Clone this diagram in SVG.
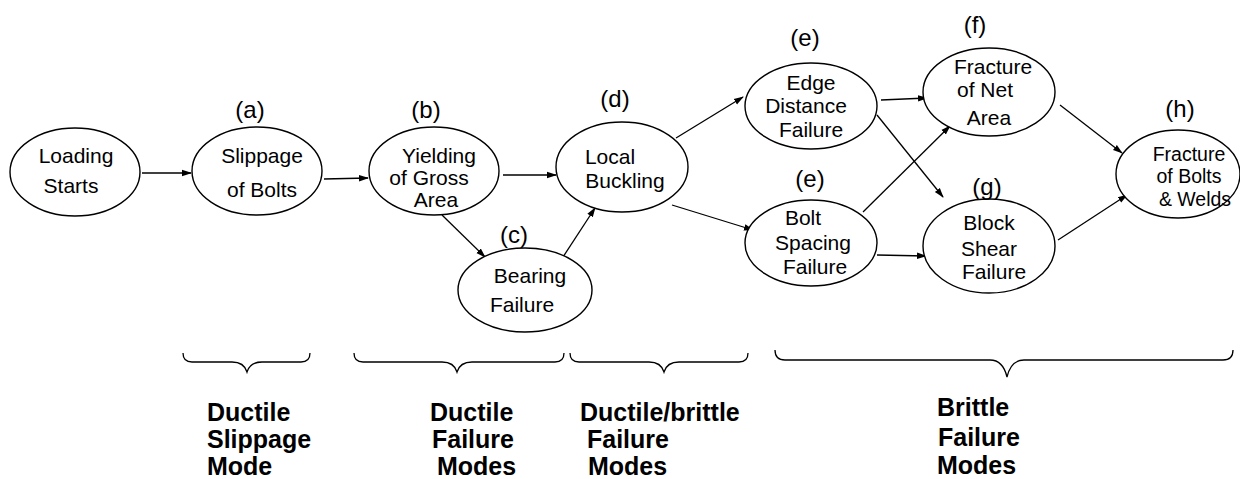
<svg xmlns="http://www.w3.org/2000/svg" width="1240" height="479" viewBox="0 0 1240 479">
<style>
.n{fill:#fff;stroke:#000;stroke-width:1.4}
.t{font-family:"Liberation Sans",Arial,sans-serif;font-size:21px;fill:#000;text-anchor:middle}
.s{font-size:19.5px}
.l{font-family:"Liberation Sans",Arial,sans-serif;font-size:24px;fill:#000;text-anchor:middle}
.c{fill:none;stroke:#000;stroke-width:1.3}
.b{fill:none;stroke:#000;stroke-width:1.3}
.m{font-family:"Liberation Sans",Arial,sans-serif;font-size:25px;font-weight:bold;fill:#000}
</style>
<defs>
<marker id="ah" markerWidth="10" markerHeight="8" refX="9" refY="4" orient="auto" markerUnits="userSpaceOnUse">
<path d="M0,0.8 L10,4 L0,7.2 Z" fill="#000"/>
</marker>
</defs>
<rect width="1240" height="479" fill="#fff"/>
<g id="connectors">
<line class="c" x1="142" y1="173" x2="191" y2="173" marker-end="url(#ah)"/>
<line class="c" x1="324" y1="179" x2="368" y2="178" marker-end="url(#ah)"/>
<line class="c" x1="503" y1="175" x2="556" y2="175" marker-end="url(#ah)"/>
<line class="c" x1="442" y1="215" x2="485" y2="257" marker-end="url(#ah)"/>
<line class="c" x1="563" y1="257" x2="595" y2="208" marker-end="url(#ah)"/>
<line class="c" x1="676" y1="138" x2="743" y2="97" marker-end="url(#ah)"/>
<line class="c" x1="672" y1="205" x2="753" y2="230" marker-end="url(#ah)"/>
<line class="c" x1="881" y1="100" x2="927" y2="98" marker-end="url(#ah)"/>
<line class="c" x1="877" y1="115" x2="943" y2="197" marker-end="url(#ah)"/>
<line class="c" x1="863" y1="212" x2="950" y2="126" marker-end="url(#ah)"/>
<line class="c" x1="877" y1="255" x2="926" y2="256" marker-end="url(#ah)"/>
<line class="c" x1="1060" y1="105" x2="1122" y2="153" marker-end="url(#ah)"/>
<line class="c" x1="1058" y1="240" x2="1127" y2="195" marker-end="url(#ah)"/>
</g>
<g id="loading">
<ellipse class="n" cx="75" cy="172" rx="65" ry="44"/>
<text class="t" x="76" y="163">Loading</text>
<text class="t" x="71" y="193">Starts</text>
</g>
<g id="slippage">
<ellipse class="n" cx="257" cy="171" rx="65" ry="44"/>
<text class="l" x="250" y="118">(a)</text>
<text class="t" x="262" y="163">Slippage</text>
<text class="t" x="262" y="197">of Bolts</text>
</g>
<g id="yielding">
<ellipse class="n" cx="434" cy="171" rx="65" ry="44"/>
<text class="l" x="426" y="118">(b)</text>
<text class="t" x="439" y="163">Yielding</text>
<text class="t" x="429" y="185">of Gross</text>
<text class="t" x="436" y="207">Area</text>
</g>
<g id="bearing">
<ellipse class="n" cx="525" cy="290" rx="67" ry="42"/>
<text class="l" x="514" y="243">(c)</text>
<text class="t" x="530" y="283">Bearing</text>
<text class="t" x="522" y="312">Failure</text>
</g>
<g id="local">
<ellipse class="n" cx="622" cy="167" rx="66" ry="45"/>
<text class="l" x="615" y="107">(d)</text>
<text class="t" x="610" y="164">Local</text>
<text class="t" x="625" y="188">Buckling</text>
</g>
<g id="edge">
<ellipse class="n" cx="811" cy="106" rx="66" ry="43"/>
<text class="l" x="805" y="46">(e)</text>
<text class="t" x="811" y="90">Edge</text>
<text class="t" x="806" y="113">Distance</text>
<text class="t" x="811" y="137">Failure</text>
</g>
<g id="boltspacing">
<ellipse class="n" cx="811" cy="243" rx="66" ry="43"/>
<text class="l" x="810" y="187">(e)</text>
<text class="t" x="803" y="225">Bolt</text>
<text class="t" x="813" y="250">Spacing</text>
<text class="t" x="815" y="274">Failure</text>
</g>
<g id="netarea">
<ellipse class="n" cx="989" cy="92" rx="66" ry="44"/>
<text class="l" x="975" y="33">(f)</text>
<text class="t" x="993" y="74">Fracture</text>
<text class="t" x="985" y="97">of Net</text>
<text class="t" x="989" y="125">Area</text>
</g>
<g id="blockshear">
<ellipse class="n" cx="989" cy="246" rx="66" ry="47"/>
<text class="l" x="987" y="195">(g)</text>
<text class="t" x="989" y="230">Block</text>
<text class="t" x="989" y="256">Shear</text>
<text class="t" x="994" y="279">Failure</text>
</g>
<g id="boltswelds">
<ellipse class="n" cx="1178" cy="174" rx="62" ry="44"/>
<text class="l" x="1180" y="117">(h)</text>
<text class="t s" x="1189" y="161">Fracture</text>
<text class="t s" x="1189" y="183">of Bolts</text>
<text class="t s" x="1195" y="206">&amp; Welds</text>
</g>
<g id="braces">
<path class="b" d="M183,353 Q183,362 192,362 L232,362 Q244,362 247,372 Q250,362 262,362 L301,362 Q310,362 310,353"/>
<path class="b" d="M354,353 Q354,362 363,362 L442,362 Q454,362 457,372 Q460,362 472,362 L555,362 Q564,362 564,353"/>
<path class="b" d="M570,353 Q570,362 579,362 L649,362 Q661,362 664,372 Q667,362 679,362 L739,362 Q748,362 748,353"/>
<path class="b" d="M775,350 Q775,360 785,360 L990,360 Q1003,360 1007,377 Q1011,360 1024,360 L1223,360 Q1233,360 1233,350"/>
</g>
<g id="captions">
<text class="m" x="207" y="421">Ductile</text>
<text class="m" x="207" y="448">Slippage</text>
<text class="m" x="207" y="475">Mode</text>
<text class="m" x="430" y="421">Ductile</text>
<text class="m" x="432" y="448">Failure</text>
<text class="m" x="437" y="475">Modes</text>
<text class="m" x="580" y="421">Ductile/brittle</text>
<text class="m" x="587" y="448">Failure</text>
<text class="m" x="588" y="475">Modes</text>
<text class="m" x="937" y="416">Brittle</text>
<text class="m" x="938" y="446">Failure</text>
<text class="m" x="937" y="474">Modes</text>
</g>
</svg>
